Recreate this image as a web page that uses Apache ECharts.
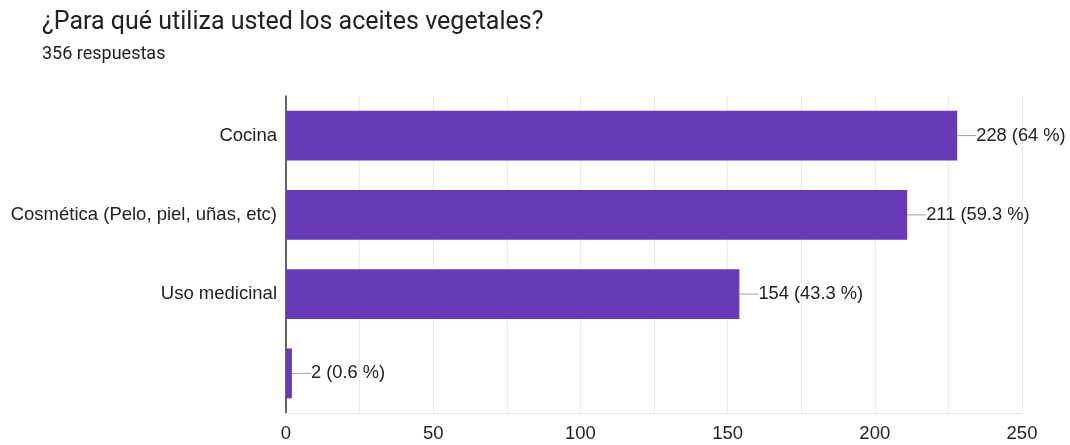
<!DOCTYPE html>
<html><head><meta charset="utf-8">
<script src="https://cdn.jsdelivr.net/npm/echarts@6/dist/echarts.min.js"></script>
<style>html,body{margin:0;padding:0;background:#fff}#c{width:1070px;height:445px}</style>
</head><body><div id="c"></div>
<script>
const categories = ["Cocina", "Cosmética (Pelo, piel, uñas, etc)", "Uso medicinal", ""];
const counts = [228, 211, 154, 2];
const percents = ["64", "59.3", "43.3", "0.6"];
const xTicks = [0, 50, 100, 150, 200, 250];

const chart = echarts.init(document.getElementById('c'));
chart.setOption({
  animation: false,
  title: {
    text: '¿Para qué utiliza usted los aceites vegetales?',
    subtext: '356 respuestas',
    left: 37, top: 5,
    itemGap: 10,
    textStyle: {fontFamily: 'Roboto', fontSize: 25, fontWeight: 'normal', color: '#202124'},
    subtextStyle: {fontFamily: 'Roboto', fontSize: 18, color: '#202124'}
  },
  grid: {left: 286, right: 48, top: 96, bottom: 32, containLabel: false},
  xAxis: {
    type: 'value', min: xTicks[0], max: xTicks[xTicks.length-1], interval: 25,
    axisLine: {show: true, lineStyle: {color: '#e6e6e6'}}, axisTick: {show: false},
    splitLine: {lineStyle: {color: '#ebebeb'}},
    axisLabel: {
      fontFamily: 'Liberation Sans', fontSize: 18.5, color: '#222', margin: 11,
      formatter: v => xTicks.indexOf(v) >= 0 ? String(v) : ''
    }
  },
  yAxis: {
    type: 'category', data: categories, inverse: true,
    axisLine: {lineStyle: {color: '#333', width: 1.5}}, axisTick: {show: false},
    axisLabel: {fontFamily: 'Liberation Sans', fontSize: 18.5, color: '#222', margin: 9}
  },
  series: [{
    type: 'bar', data: counts, barWidth: '63%',
    itemStyle: {color: '#673ab7'},
    label: {
      show: true, position: 'right', distance: 0,
      formatter: p => '{l|}{t|' + p.value + ' (' + percents[p.dataIndex] + ' %)}',
      rich: {
        l: {width: 19, height: 1, backgroundColor: '#a0a0a0', verticalAlign: 'middle'},
        t: {fontFamily: 'Liberation Sans', fontSize: 18.3, color: '#222'}
      }
    }
  }]
});
</script></body></html>
